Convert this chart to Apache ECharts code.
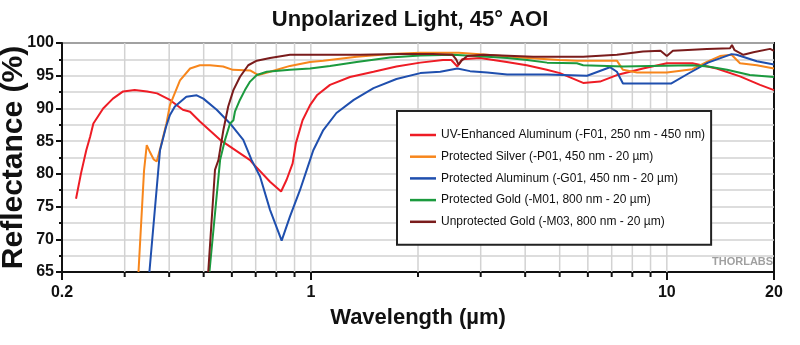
<!DOCTYPE html>
<html>
<head>
<meta charset="utf-8">
<script src="https://cdn.jsdelivr.net/npm/echarts@6/dist/echarts.min.js"></script>
<style>html,body{margin:0;padding:0;background:#fff}#c{width:800px;height:345px}</style>
</head>
<body>
<div id="c"></div>
<script>
// ---- data (wavelength in µm, reflectance in %) ----
const seriesNames = [
  'UV-Enhanced Aluminum (-F01, 250 nm - 450 nm)',
  'Protected Silver (-P01, 450 nm - 20 µm)',
  'Protected Aluminum (-G01, 450 nm - 20 µm)',
  'Protected Gold (-M01, 800 nm - 20 µm)',
  'Unprotected Gold (-M03, 800 nm - 20 µm)'
];
const wlUV = [0.219,0.226,0.234,0.240,0.245,0.261,0.278,0.297,0.320,0.347,0.370,0.402,0.437,0.458,0.488,0.556,0.675,0.687,0.768,0.825,0.855,0.889,0.908,0.948,0.995,1.04,1.132,1.288,1.50,1.74,2.03,2.35,2.48,2.58,2.66,2.99,3.55,4.04,4.60,5.01,5.82,6.49,7.24,8.57,10.0,11.8,13.8,16.05,18.27,20];
const rUV  = [76.2,80.0,83.6,85.7,87.7,90.0,91.5,92.6,92.8,92.6,92.3,91.3,89.8,89.5,88.0,85.2,82.1,81.6,78.8,77.3,79.1,81.6,84.7,88.2,90.5,92.0,93.6,94.8,95.6,96.4,97.0,97.4,97.4,96.4,97.5,97.7,97.1,96.6,95.9,95.4,93.9,94.1,95.1,96.1,96.9,96.9,96.1,94.9,93.6,92.8];

const wlAg = [0.328,0.340,0.346,0.352,0.362,0.369,0.378,0.393,0.402,0.429,0.458,0.488,0.521,0.567,0.604,0.675,0.712,0.768,0.874,0.995,1.084,1.345,1.67,2.03,2.6,3.13,3.87,5.0,5.6,7.24,7.53,8.25,10.0,11.8,12.96,14.1,15.2,16.05,17.9,20];
const rAg  = [65,80.5,84.4,83.5,82.2,81.9,84.0,87.7,90.5,94.3,96.1,96.6,96.6,96.4,95.9,95.8,95.1,95.6,96.5,97.1,97.3,97.9,98.3,98.5,98.5,98.2,97.8,97.4,97.3,97.3,95.9,95.5,95.5,96.0,97.1,98.0,98.2,96.9,96.6,96.1];

const wlAl = [0.352,0.377,0.392,0.402,0.415,0.447,0.478,0.499,0.544,0.593,0.646,0.682,0.720,0.768,0.828,0.874,0.932,0.974,1.016,1.084,1.18,1.32,1.50,1.74,2.03,2.31,2.58,2.80,3.13,3.56,4.61,5.97,6.92,7.24,7.53,10.27,11.47,13.05,15.2,15.7,17.9,20];
const rAl  = [65,83.6,87.2,89.0,90.3,91.8,92.0,91.5,89.8,87.7,85.2,82.1,79.6,74.5,69.8,73.5,77.5,80.6,83.6,86.7,89.3,91.3,93.1,94.5,95.4,95.6,96.1,95.7,95.5,95.2,95.2,95.0,96.3,95.6,93.8,93.8,95.3,97.0,98.3,98.2,97.2,96.7];

const wlAuP = [0.519,0.556,0.574,0.593,0.600,0.606,0.612,0.632,0.653,0.675,0.705,0.752,0.874,0.995,1.132,1.345,1.669,2.03,2.51,3.13,3.56,4.05,4.61,5.59,5.82,7.53,8.97,11.8,13.05,14.76,17.1,20];
const rAuP  = [65,82.1,85.2,87.7,87.9,88.2,89.5,91.3,92.8,94.1,95.1,95.6,95.9,96.1,96.5,97.1,97.8,98.1,98.2,97.9,97.7,97.4,97.0,96.9,96.6,96.4,96.5,96.6,96.4,95.9,95.1,94.8];

const wlAuU = [0.515,0.538,0.550,0.568,0.586,0.606,0.632,0.667,0.705,0.768,0.874,1.0,1.375,1.8,2.2,2.5,2.56,2.6,2.65,2.75,3.05,4.21,5.82,7.24,8.57,9.6,10.0,10.4,11.1,12.96,15.05,15.24,15.5,16.4,17.5,19.5,20];
const rAuU  = [65,80.6,82.1,86.7,90.3,92.8,94.8,96.6,97.3,97.7,98.2,98.2,98.2,98.3,98.3,98.2,97.5,96.7,97.3,98.0,98.2,97.9,97.9,98.2,98.7,98.8,98.0,98.8,98.9,99.1,99.2,99.7,98.9,98.2,98.6,99.1,98.8];

const xTickLabels = [0.2, 1, 10, 20];
const xGridValues = [0.3,0.4,0.5,0.6,0.7,0.8,0.9,1,2,3,4,5,6,7,8,9,10];
const xMinorTicks = [0.3,0.4,0.5,0.6,0.7,0.8,0.9,2,3,4,5,6,7,8,9];
const colors = ['#ee1c25','#f7861c','#1f4fae','#1b9a3e','#7a1c1c'];

const zip = (a,b) => a.map((v,i)=>[v,b[i]]);
const seriesData = [zip(wlUV,rUV), zip(wlAg,rAg), zip(wlAl,rAl), zip(wlAuP,rAuP), zip(wlAuU,rAuU)];

const SANS = '"Liberation Sans",Arial,sans-serif';

const chart = echarts.init(document.getElementById('c'), null, {renderer:'canvas'});
const lineSeries = seriesNames.map((n,i)=>({
  name:n, type:'line', data:seriesData[i], symbol:'none', showSymbol:false,
  lineStyle:{width:2, color:colors[i]}, itemStyle:{color:colors[i]}, z:3, animation:false, clip:true
}));

chart.setOption({
  animation:false,
  title:{text:'Unpolarized Light, 45° AOI', left:405, textAlign:'center', top:4,
    textStyle:{fontFamily:SANS, fontWeight:'bold', fontSize:22, color:'#111'}},
  grid:{left:62, top:43, right:26, bottom:73, containLabel:false, outerBoundsMode:'none',
    show:true, borderColor:'#111', borderWidth:2, backgroundColor:'#fff'},
  xAxis:{type:'log', logBase:10, min:0.2, max:20,
    name:'Wavelength (µm)', nameLocation:'middle', nameGap:35, nameMoveOverlap:false,
    nameTextStyle:{fontFamily:SANS, fontWeight:'bold', fontSize:22, color:'#111'},
    axisLine:{lineStyle:{color:'#111', width:2}},
    axisTick:{show:true, length:8, lineStyle:{color:'#111', width:2}},
    axisLabel:{fontFamily:SANS, fontWeight:'bold', fontSize:16, color:'#111', margin:13,
      formatter:v=>String(+Number(v).toPrecision(3))},
    splitLine:{show:false}},
  yAxis:{type:'value', min:65, max:100, interval:5,
    name:'Reflectance (%)', nameLocation:'middle', nameGap:33, nameMoveOverlap:false,
    nameTextStyle:{fontFamily:SANS, fontWeight:'bold', fontSize:30, color:'#111'},
    axisLine:{lineStyle:{color:'#111', width:2}},
    axisTick:{show:true, length:6, lineStyle:{color:'#111', width:2}},
    minorTick:{show:true, splitNumber:2, length:3, lineStyle:{color:'#111', width:2}},
    axisLabel:{fontFamily:SANS, fontWeight:'bold', fontSize:16, color:'#111', margin:8},
    splitLine:{show:true, lineStyle:{color:'#d2d2d2', width:1.5}},
    minorSplitLine:{show:true, lineStyle:{color:'#d2d2d2', width:1.5}}},
  legend:{orient:'vertical', left:397, top:111, data:seriesNames, icon:'rect', itemWidth:26, itemHeight:2.5,
    itemGap:7.7, padding:[17,6,16,13], backgroundColor:'#fff', borderColor:'#222', borderWidth:2,
    textStyle:{fontFamily:SANS, fontSize:12, color:'#111', lineHeight:14}},
  graphic:[{type:'text', left:712, top:256, z:10,
    style:{text:'THORLABS', fontFamily:SANS, fontWeight:'bold', fontSize:11, fill:'#a0a0a0'}}],
  series:[{
    type:'custom', name:'grid', z:1, silent:true, clip:false,
    data:xGridValues.map(v=>[v, xMinorTicks.indexOf(v)>=0 ? 1 : 0]),
    renderItem:(params, api)=>{
      const v = api.value(0);
      const p0 = api.coord([v, 65]);
      const p1 = api.coord([v, 100]);
      const children = [{type:'line', shape:{x1:p0[0], y1:p0[1], x2:p1[0], y2:p1[1]},
        style:{stroke:'#d2d2d2', lineWidth:1.5}}];
      if (api.value(1) === 1) {
        children.push({type:'line', shape:{x1:p0[0], y1:p0[1], x2:p0[0], y2:p0[1]+5},
          style:{stroke:'#111', lineWidth:2}});
      }
      return {type:'group', children};
    }
  }].concat(lineSeries)
});
</script>
</body>
</html>
